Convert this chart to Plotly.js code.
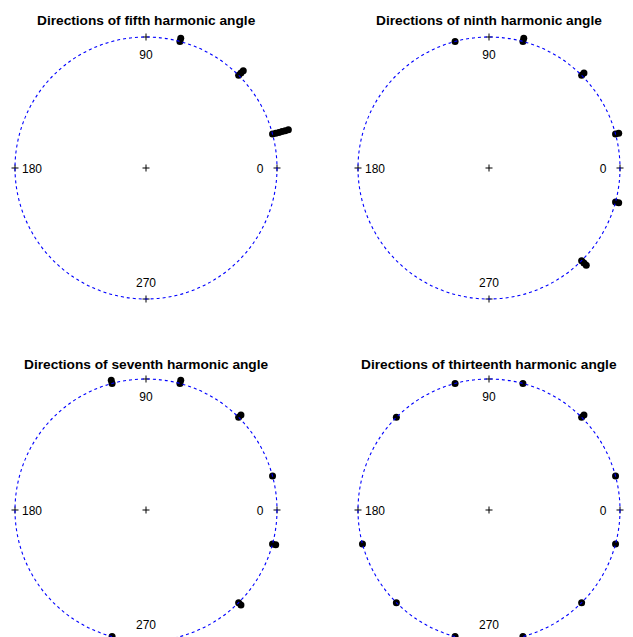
<!DOCTYPE html>
<html>
<head>
<meta charset="utf-8">
<script src="https://cdn.plot.ly/plotly-3.0.1.min.js"></script>
<style>html,body{margin:0;padding:0;background:#fff;}#plot{width:633px;height:637px;}</style>
</head>
<body>
<div id="plot"></div>
<script>
// ---- data: angles (degrees) of the harmonic directions; repeats are stacked ----
const fifthAngles      = [75, 75, 45, 45, 45, 15, 15, 15, 15, 15, 15];
const ninthAngles      = [105, 75, 75, 45, 45, 15, 15, 345, 345, 315, 315, 315];
const seventhAngles    = [105, 105, 75, 75, 45, 45, 15, 345, 345, 315, 315, 255];
const thirteenthAngles = [15, 45, 45, 75, 105, 135, 195, 225, 255, 285, 315, 345];
const titles = ["Directions of fifth harmonic angle", "Directions of ninth harmonic angle",
                "Directions of seventh harmonic angle", "Directions of thirteenth harmonic angle"];
const tickAngles = [0, 90, 180, 270];
const tickLabels = ["0", "90", "180", "270"];

// ---- layout geometry ----
const W = 633, H = 637, R = 131, SEP = 0.025, LABEL_R = 0.87, LABEL_DY = 2;
const panels = [
  {angles: fifthAngles,      title: titles[0], cx: 146, cy: 168, xd: [0, 0.5], yd: [0.5, 1], ty: 21},
  {angles: ninthAngles,      title: titles[1], cx: 489, cy: 168, xd: [0.5, 1], yd: [0.5, 1], ty: 21},
  {angles: seventhAngles,    title: titles[2], cx: 146, cy: 510, xd: [0, 0.5], yd: [0, 0.5], ty: 364},
  {angles: thirteenthAngles, title: titles[3], cx: 489, cy: 510, xd: [0.5, 1], yd: [0, 0.5], ty: 364}
];

const rad = d => d * Math.PI / 180;
const traces = [], shapes = [], annotations = [];
const layout = {
  width: W, height: H, margin: {l: 0, r: 0, t: 0, b: 0},
  paper_bgcolor: "#ffffff", plot_bgcolor: "rgba(0,0,0,0)", showlegend: false
};

panels.forEach((p, i) => {
  const n = i + 1;
  const xa = n === 1 ? "x" : "x" + n, ya = n === 1 ? "y" : "y" + n;
  const xk = n === 1 ? "xaxis" : "xaxis" + n, yk = n === 1 ? "yaxis" : "yaxis" + n;
  layout[xk] = {domain: p.xd, visible: false, fixedrange: true,
    range: [(p.xd[0] * W - p.cx) / R, (p.xd[1] * W - p.cx) / R]};
  layout[yk] = {domain: p.yd, visible: false, fixedrange: true,
    range: [(p.cy - (1 - p.yd[0]) * H) / R, (p.cy - (1 - p.yd[1]) * H) / R]};

  // reference circle
  shapes.push({type: "circle", xref: xa, yref: ya, x0: -1, x1: 1, y0: -1, y1: 1,
    line: {color: "#0000ff", width: 1.1, dash: "3px,3px"}});

  // stacked points
  const seen = {}, xs = [], ys = [];
  p.angles.forEach(a => {
    const k = seen[a] || 0; seen[a] = k + 1;
    const r = 1 + SEP * k;
    xs.push(r * Math.cos(rad(a))); ys.push(r * Math.sin(rad(a)));
  });
  traces.push({type: "scatter", mode: "markers", x: xs, y: ys, xaxis: xa, yaxis: ya,
    cliponaxis: false, hoverinfo: "skip",
    marker: {color: "#000", size: 7, line: {width: 0}}});

  // ticks on the circle and center cross
  traces.push({type: "scatter", mode: "markers",
    x: tickAngles.map(a => Math.cos(rad(a))).concat([0]),
    y: tickAngles.map(a => Math.sin(rad(a))).concat([0]),
    xaxis: xa, yaxis: ya, cliponaxis: false, hoverinfo: "skip",
    marker: {symbol: "cross-thin", size: 5, line: {color: "#000", width: 1}}});

  // tick labels
  traces.push({type: "scatter", mode: "text",
    x: tickAngles.map(a => LABEL_R * Math.cos(rad(a))),
    y: tickAngles.map(a => LABEL_R * Math.sin(rad(a)) - LABEL_DY / R),
    text: tickLabels, textposition: "middle center",
    xaxis: xa, yaxis: ya, cliponaxis: false, hoverinfo: "skip",
    textfont: {family: "Liberation Sans, Arial, sans-serif", size: 12, color: "#000"}});

  annotations.push({xref: "paper", yref: "paper", x: p.cx / W, y: 1 - p.ty / H,
    xanchor: "center", yanchor: "middle", showarrow: false,
    text: "<b>" + p.title + "</b>",
    font: {family: "Liberation Sans, Arial, sans-serif", size: 13.7, color: "#000"}});
});

layout.shapes = shapes;
layout.annotations = annotations;
Plotly.newPlot("plot", traces, layout, {staticPlot: true, displayModeBar: false});
</script>
</body>
</html>
